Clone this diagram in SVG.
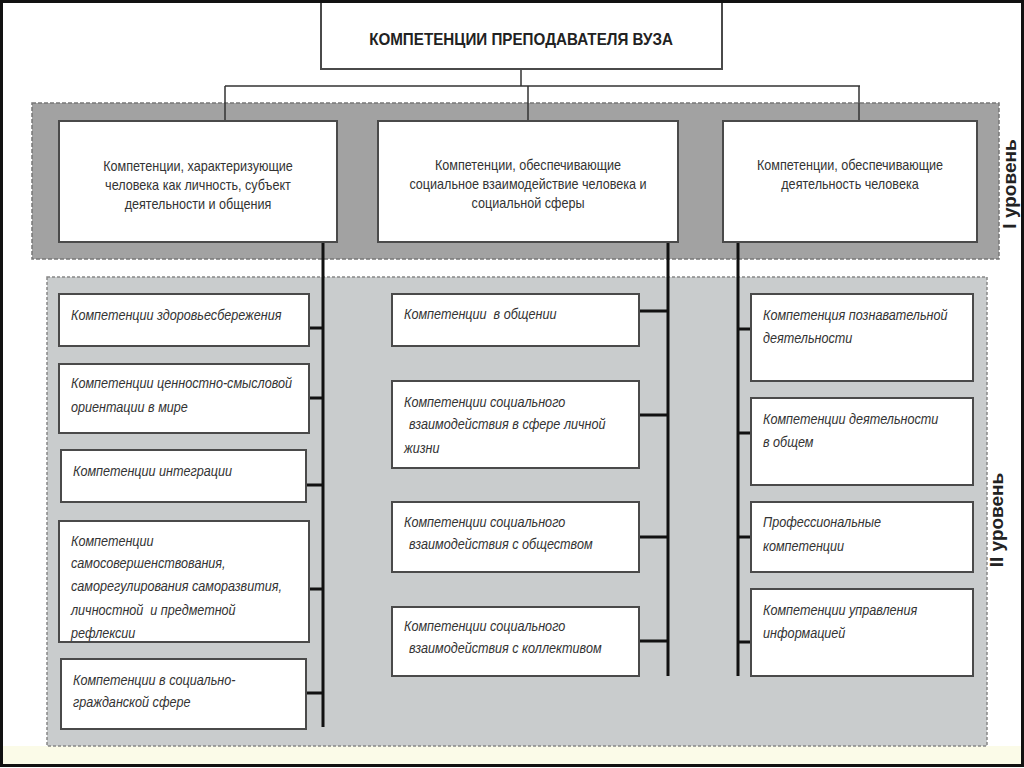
<svg xmlns="http://www.w3.org/2000/svg" width="1024" height="768" viewBox="0 0 1024 768">
<style>
.box{fill:#fff;stroke:#4a4a4a;stroke-width:2}
.t{font-family:"Liberation Sans",Arial,sans-serif;font-size:14.5px;fill:#333}
.c{text-anchor:middle}
.i{font-style:italic}
.lvl{font-family:"Liberation Sans",Arial,sans-serif;font-size:19px;font-weight:bold;fill:#222;text-anchor:middle}
.thin{stroke:#333;stroke-width:1.5;fill:none}
.thick{stroke:#111;stroke-width:3;fill:none}
</style>
<rect x="0" y="0" width="1024" height="768" fill="#fff"/>
<rect x="2" y="746" width="1020" height="19" fill="#fbfbe8"/>
<rect id="band1" x="32" y="103" width="967" height="156" fill="#a2a2a2" stroke="#777" stroke-width="1.5" stroke-dasharray="4 2"/>
<rect id="band2" x="47" y="277" width="940" height="469" fill="#c9cccd" stroke="#888" stroke-width="1.5" stroke-dasharray="3 2"/>
<text class="lvl" transform="translate(1016,184) rotate(-90)">I уровень</text>
<text class="lvl" transform="translate(1003,520) rotate(-90)">II уровень</text>

<g id="connectors">
<path class="thin" d="M521 69V86M225 86H860M225 86V121M528 86V121M859 86V121"/>
<path class="thick" d="M323 242V727M668 242V676M738 242V676"/>
<path class="thick" d="M309 328H323M309 398H323M306 485H323M309 589H323M306 693H323"/>
<path class="thick" d="M639 311H668M639 415H668M639 537H668M639 641H668"/>
<path class="thick" d="M738 329H751M738 433H751M738 537H751M738 642H751"/>
</g>

<g id="root">
<rect class="box" x="321" y="-2" width="401" height="71"/>
<text class="t c" transform="translate(521,45) scale(0.95,1)" style="font-size:16px;font-weight:bold;fill:#222">КОМПЕТЕНЦИИ ПРЕПОДАВАТЕЛЯ ВУЗА</text>
</g>

<g id="l1a">
<rect class="box" x="59" y="121" width="278" height="121"/>
<text class="t c" transform="translate(198,171) scale(0.87,1)">Компетенции, характеризующие</text>
<text class="t c" transform="translate(198,190) scale(0.87,1)">человека как личность, субъект</text>
<text class="t c" transform="translate(198,209) scale(0.87,1)">деятельности и общения</text>
</g>
<g id="l1b">
<rect class="box" x="378" y="121" width="300" height="121"/>
<text class="t c" transform="translate(528,170) scale(0.87,1)">Компетенции, обеспечивающие</text>
<text class="t c" transform="translate(528,189) scale(0.87,1)">социальное взаимодействие человека и</text>
<text class="t c" transform="translate(528,208) scale(0.87,1)">социальной сферы</text>
</g>
<g id="l1c">
<rect class="box" x="723" y="121" width="254" height="121"/>
<text class="t c" transform="translate(850,170) scale(0.87,1)">Компетенции, обеспечивающие</text>
<text class="t c" transform="translate(850,189) scale(0.87,1)">деятельность человека</text>
</g>

<g id="a1">
<rect class="box" x="59" y="294" width="250" height="52"/>
<text class="t i" transform="translate(71,320) scale(0.87,1)">Компетенции здоровьесбережения</text>
</g>
<g id="a2">
<rect class="box" x="59" y="364" width="250" height="69"/>
<text class="t i" transform="translate(71,388) scale(0.87,1)">Компетенции ценностно-смысловой</text>
<text class="t i" transform="translate(71,412) scale(0.87,1)">ориентации в мире</text>
</g>
<g id="a3">
<rect class="box" x="61" y="450" width="245" height="52"/>
<text class="t i" transform="translate(73,476) scale(0.87,1)">Компетенции интеграции</text>
</g>
<g id="a4">
<rect class="box" x="59" y="521" width="250" height="121"/>
<text class="t i" transform="translate(71,546) scale(0.87,1)">Компетенции</text>
<text class="t i" transform="translate(71,568) scale(0.87,1)">самосовершенствования,</text>
<text class="t i" transform="translate(71,591) scale(0.87,1)">саморегулирования саморазвития,</text>
<text class="t i" xml:space="preserve" transform="translate(71,615) scale(0.87,1)">личностной  и предметной</text>
<text class="t i" transform="translate(71,638) scale(0.87,1)">рефлексии</text>
</g>
<g id="a5">
<rect class="box" x="61" y="659" width="245" height="70"/>
<text class="t i" transform="translate(73,685) scale(0.87,1)">Компетенции в социально-</text>
<text class="t i" transform="translate(73,707) scale(0.87,1)">гражданской сфере</text>
</g>

<g id="b1">
<rect class="box" x="392" y="294" width="247" height="52"/>
<text class="t i" xml:space="preserve" transform="translate(404,319) scale(0.87,1)">Компетенции  в общении</text>
</g>
<g id="b2">
<rect class="box" x="392" y="381" width="247" height="87"/>
<text class="t i" transform="translate(404,407) scale(0.87,1)">Компетенции социального</text>
<text class="t i" transform="translate(409,429) scale(0.87,1)">взаимодействия в сфере личной</text>
<text class="t i" transform="translate(404,453) scale(0.87,1)">жизни</text>
</g>
<g id="b3">
<rect class="box" x="392" y="502" width="247" height="70"/>
<text class="t i" transform="translate(404,527) scale(0.87,1)">Компетенции социального</text>
<text class="t i" transform="translate(409,549) scale(0.87,1)">взаимодействия с обществом</text>
</g>
<g id="b4">
<rect class="box" x="392" y="607" width="247" height="69"/>
<text class="t i" transform="translate(404,631) scale(0.87,1)">Компетенции социального</text>
<text class="t i" transform="translate(409,653) scale(0.87,1)">взаимодействия с коллективом</text>
</g>

<g id="c1">
<rect class="box" x="751" y="294" width="222" height="87"/>
<text class="t i" transform="translate(763,320) scale(0.87,1)">Компетенция познавательной</text>
<text class="t i" transform="translate(763,343) scale(0.87,1)">деятельности</text>
</g>
<g id="c2">
<rect class="box" x="751" y="398" width="222" height="87"/>
<text class="t i" transform="translate(763,424) scale(0.87,1)">Компетенции деятельности</text>
<text class="t i" transform="translate(763,447) scale(0.87,1)">в общем</text>
</g>
<g id="c3">
<rect class="box" x="751" y="502" width="222" height="70"/>
<text class="t i" transform="translate(763,527) scale(0.87,1)">Профессиональные</text>
<text class="t i" transform="translate(763,551) scale(0.87,1)">компетенции</text>
</g>
<g id="c4">
<rect class="box" x="751" y="589" width="222" height="87"/>
<text class="t i" transform="translate(763,615) scale(0.87,1)">Компетенции управления</text>
<text class="t i" transform="translate(763,638) scale(0.87,1)">информацией</text>
</g>

<rect x="1.5" y="1.5" width="1021" height="764" fill="none" stroke="#111" stroke-width="3"/>
</svg>
